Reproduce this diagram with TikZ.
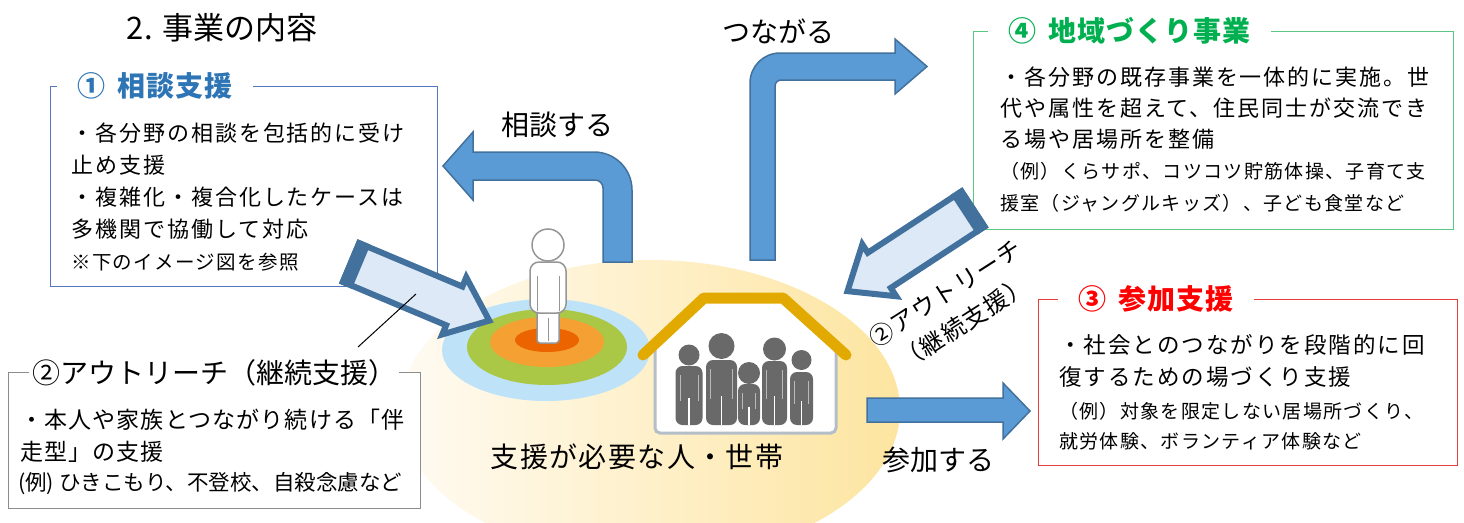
\documentclass[tikz,border=0pt]{standalone}
\usepackage{fontspec}
\setmainfont{Noto Sans CJK JP}
\newfontfamily\jp{Noto Sans CJK JP}
\newfontfamily\jpwide{Noto Sans CJK JP}[LetterSpace=9]
\newfontfamily\jpmid{Noto Sans CJK JP}[LetterSpace=5]
\newfontfamily\jpsmall{Noto Sans CJK JP}[LetterSpace=7]
\newfontfamily\jptitle{Noto Sans CJK JP}[LetterSpace=4]
\usetikzlibrary{shapes.geometric}

\definecolor{arrowblue}{RGB}{91,155,213}
\definecolor{arrowedge}{RGB}{65,113,156}
\definecolor{paleblue}{RGB}{221,233,246}
\definecolor{boxblue}{RGB}{84,120,190}
\definecolor{titleblue}{RGB}{46,117,182}
\definecolor{boxgreen}{RGB}{90,200,130}
\definecolor{titlegreen}{RGB}{0,176,80}
\definecolor{boxred}{RGB}{235,60,60}
\definecolor{titlered}{RGB}{255,0,0}
\definecolor{boxgray}{RGB}{140,140,140}
\definecolor{roofgold}{RGB}{226,170,0}
\definecolor{wallgray}{RGB}{180,190,200}
\definecolor{famgray}{RGB}{105,105,105}
\definecolor{ringblue}{RGB}{190,226,248}
\definecolor{ringgreen}{RGB}{170,200,70}
\definecolor{ringorange}{RGB}{244,160,50}
\definecolor{ringred}{RGB}{236,100,0}
\definecolor{yellowhi}{RGB}{253,229,160}
\definecolor{yellowlo}{RGB}{255,251,243}
\definecolor{persongray}{RGB}{150,150,150}

\tikzset{
  framebox/.style={draw, fill=white, line width=1.3pt, inner sep=0pt, anchor=north west},
  boxtitle/.style={fill=white, anchor=west, inner ysep=2pt, inner xsep=20pt,
    font=\jptitle\bfseries\fontsize{28}{32}\selectfont},
  bodyline/.style={anchor=west, inner sep=0pt, font=\jpwide\fontsize{22}{26}\selectfont},
  exline/.style={anchor=west, inner sep=0pt, font=\jpsmall\fontsize{19}{24}\selectfont},
  caption/.style={inner sep=0pt, font=\jp\fontsize{28}{32}\selectfont},
  bluearrow/.style={fill=arrowblue, draw=arrowedge, line width=1.5pt},
  palearrow/.style={fill=paleblue, draw=arrowedge, line width=6pt},
  pics/outreach/.style={code={
    \draw[palearrow] (0,-21) -- (112,-21) -- (112,-31) -- (150,0) -- (112,31)
      -- (112,21) -- (0,21) -- cycle;
    \fill[arrowedge] (-3,-24) rectangle (11,24);
  }}
}

% one family member: centre x, head y, head radius, shoulder y, half width
\newcommand\famfig[5]{%
  \fill[famgray] (#1,#2) circle (#3pt);
  \fill[famgray, rounded corners=7pt] ({#1-#5},425) -- ({#1-#5},#4) -- ({#1+#5},#4) -- ({#1+#5},425) -- cycle;
  \draw[white, line width=1.4pt] (#1,{#4+(425-#4)*0.55}) -- (#1,425);
  \draw[gray!55, line width=0.8pt] ({#1-#5+4.5},{#4+9}) -- ({#1-#5+4.5},{#4+(425-#4)*0.6});
  \draw[gray!55, line width=0.8pt] ({#1+#5-4.5},{#4+9}) -- ({#1+#5-4.5},{#4+(425-#4)*0.6});
}

\begin{document}
\begin{tikzpicture}[x=1pt,y=-1pt]
\useasboundingbox (0,0) rectangle (1464,522);
\fill[white] (0,0) rectangle (1464,522);
\clip (0,0) rectangle (1464,522);

% ground ellipse
\shade[left color=yellowlo, right color=yellowhi] (650,410) ellipse (250pt and 150pt);

% target rings
\fill[ringblue] (546,350) ellipse (104pt and 51pt);
\fill[ringgreen] (547,347) ellipse (80pt and 38pt);
\fill[ringorange] (547,342) ellipse (57pt and 25pt);
\fill[ringred] (547,340) ellipse (32pt and 12pt);

% person standing on the target
\draw[fill=white, draw=persongray, line width=1.5pt, rounded corners=3pt]
  (537,300) -- (537,343) -- (559,343) -- (559,300);
\draw[persongray, line width=1pt] (548,318) -- (548,341);
\draw[fill=white, draw=persongray, line width=1.5pt, rounded corners=9pt]
  (530,313) -- (530,262) -- (566,262) -- (566,313) -- cycle;
\draw[persongray, line width=1pt] (537,276) -- (537,311) (559,276) -- (559,311);
\draw[fill=white, draw=persongray, line width=1.5pt] (548,245) circle (16pt);

% house
\fill[white] (655,350) -- (705,301) -- (783,301) -- (836,350) -- (836,433) -- (655,433) -- cycle;
\draw[wallgray, line width=3pt, rounded corners=5pt] (655,350) -- (655,433) -- (836,433) -- (836,350);
\famfig{689}{355}{10.5}{366}{13.5}
\famfig{721.5}{346}{13}{360}{15.5}
\famfig{749}{373}{11}{384}{11}
\famfig{774.5}{349}{11.5}{361}{12.5}
\famfig{801.5}{360}{10}{372}{11.5}
\draw[roofgold, line width=11pt, line cap=round, line join=round]
  (643,355) -- (704,298) -- (783,298) -- (846,355);

\node[caption, font=\jpmid\fontsize{28}{32}\selectfont] (target) at (637,457) {支援が必要な人・世帯};

% (1) consultation box
\node[framebox, draw=boxblue, minimum width=387pt, minimum height=200pt] (box1) at (50,86) {};
\node[boxtitle, text=titleblue] (t1) at (57,86) {①\hspace{12pt}相談支援};
\node[bodyline] (b1a) at (71,133) {・各分野の相談を包括的に受け};
\node[bodyline] (b1b) at (71,165) {止め支援};
\node[bodyline] (b1c) at (71,197) {・複雑化・複合化したケースは};
\node[bodyline] (b1d) at (71,229) {多機関で協働して対応};
\node[exline, font=\jpsmall\fontsize{19.5}{24}\selectfont] (b1e) at (71,262) {※下のイメージ図を参照};

% (2) outreach box
\node[framebox, draw=boxgray, line width=1pt, minimum width=412pt, minimum height=136pt] (box2) at (8,372) {};
\node[fill=white, anchor=west, inner xsep=3pt, inner ysep=2pt, font=\jp\fontsize{28}{30}\selectfont] (t2) at (29,373) {②アウトリーチ（継続支援）};
\node[bodyline, font=\jpmid\fontsize{23}{26}\selectfont] (b2a) at (20,420) {・本人や家族とつながり続ける「伴};
\node[bodyline, font=\jpmid\fontsize{23}{26}\selectfont] (b2b) at (20,452) {走型」の支援};
\node[exline, font=\jp\fontsize{21.5}{24}\selectfont] (b2c) at (18,484) {(例) ひきこもり、不登校、自殺念慮など};

% (4) community box
\node[framebox, draw=boxgreen, minimum width=480pt, minimum height=198pt] (box4) at (973,31) {};
\node[boxtitle, text=titlegreen] (t4) at (988,31) {④\hspace{12pt}地域づくり事業};
\node[bodyline] (b4a) at (1000,77) {・各分野の既存事業を一体的に実施。世};
\node[bodyline] (b4b) at (1000,108) {代や属性を超えて、住民同士が交流でき};
\node[bodyline] (b4c) at (1000,139) {る場や居場所を整備};
\node[exline] (b4d) at (1000,171) {（例）くらサポ、コツコツ貯筋体操、子育て支};
\node[exline] (b4e) at (1000,203) {援室（ジャングルキッズ）、子ども食堂など};

% (3) participation box
\node[framebox, draw=boxred, minimum width=419pt, minimum height=166pt] (box3) at (1038,299) {};
\node[boxtitle, text=titlered] (t3) at (1058,299) {③\hspace{12pt}参加支援};
\node[bodyline, font=\jpwide\fontsize{22.5}{26}\selectfont] (b3a) at (1059,345) {・社会とのつながりを段階的に回};
\node[bodyline, font=\jpwide\fontsize{22.5}{26}\selectfont] (b3b) at (1059,377) {復するための場づくり支援};
\node[exline] (b3c) at (1059,411) {（例）対象を限定しない居場所づくり、};
\node[exline] (b3d) at (1059,441) {就労体験、ボランティア体験など};

% headline
\node[caption, font=\jp\fontsize{31}{34}\selectfont] (head) at (222,28) {2. 事業の内容};

% bent arrows
\draw[bluearrow] (632,262) -- (632,190) .. controls (632,169) and (615,152) .. (594,152)
  -- (473,152) -- (473,132) -- (443,166) -- (473,200) -- (473,180) -- (595,180)
  .. controls (599.4,180) and (603,183.6) .. (603,188) -- (603,262) -- cycle;
\node[caption] (consult) at (557,125) {相談する};

\draw[bluearrow] (750,260) -- (750,83) .. controls (750,66.4) and (763.4,53) .. (780,53)
  -- (895,53) -- (895,39) -- (927,66.5) -- (895,94) -- (895,80) -- (781,80)
  .. controls (777.7,80) and (775,82.7) .. (775,86) -- (775,260) -- cycle;
\node[caption] (connect) at (778,31) {つながる};

\draw[bluearrow] (867,398) -- (1003,398) -- (1003,383) -- (1030,411) -- (1003,439)
  -- (1003,422) -- (867,422) -- cycle;
\node[caption] (join) at (938,460) {参加する};

% outreach arrows
\pic[rotate=-22.8] at (351,262.5) {outreach};
\pic[rotate=213.2] at (973,209) {outreach};
\node[inner sep=0pt, rotate=32.6, align=center, font=\jpmid\fontsize{24}{35}\selectfont] (olabel) at (954.5,308) {②アウトリーチ\\（継続支援）};

% leader from the outreach box to its arrow
\coordinate (leadend) at (416,294);
\draw[black, line width=1pt] (358,347) -- (leadend);
\end{tikzpicture}
\end{document}
